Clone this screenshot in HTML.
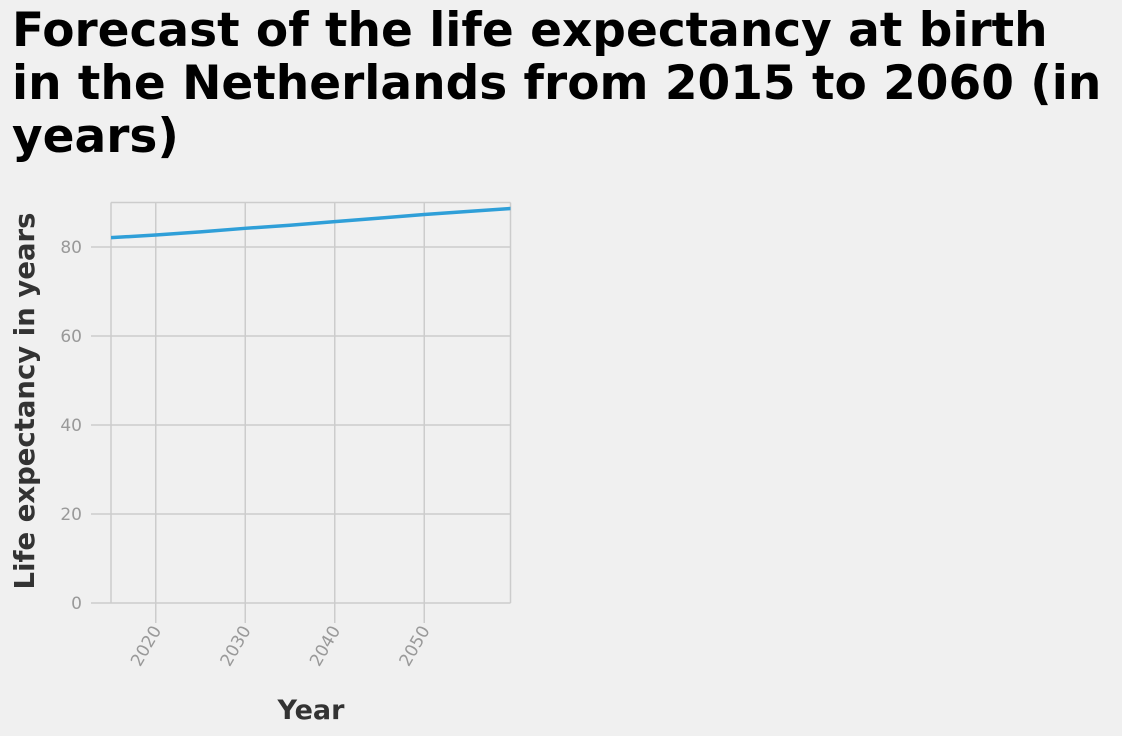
<!DOCTYPE html>
<html><head><meta charset="utf-8"><style>
body{margin:0;background:#f0f0f0;font-family:"DejaVu Sans",sans-serif;}
#title{position:absolute;left:12px;top:4px;font-family:"DejaVu Sans",sans-serif;font-size:47px;font-weight:bold;line-height:53px;color:#000;margin:0;white-space:nowrap;}
</style></head><body>
<h1 id="title">Forecast of the life expectancy at birth<br>in the Netherlands from 2015 to 2060 (in<br>years)</h1>
<svg id="chart" width="1122" height="736" style="position:absolute;left:0;top:0"></svg>
<script>
const years=[2015,2020,2025,2030,2035,2040,2045,2050,2055,2060];
const lifeExpectancy=[82.1,82.7,83.4,84.2,84.9,85.7,86.5,87.3,88.0,88.7];
const yTicks=[0,20,40,60,80];
const xTicks=[2020,2030,2040,2050];
const NS="http://www.w3.org/2000/svg";
const svg=document.getElementById('chart');
const L=111,R=510.5,T=202.5,B=603;
const xs=v=>L+(v-2015)*8.95;
const ys=v=>B-v*4.45;
function mk(tag,attrs,parent){const e=document.createElementNS(NS,tag);for(const k in attrs)e.setAttribute(k,attrs[k]);(parent||svg).appendChild(e);return e;}
const grid=mk('g',{});


mk('line',{x1:L,x2:L,y1:T,y2:B,stroke:'#cccccc','stroke-width':1.5},grid);
mk('line',{x1:R,x2:R,y1:T,y2:B,stroke:'#cccccc','stroke-width':1.5},grid);
mk('line',{x1:L,x2:R,y1:T,y2:T,stroke:'#cccccc','stroke-width':1.5},grid);
yTicks.forEach(v=>{
 const l=mk('line',{x1:L-20,x2:R,y1:ys(v),y2:ys(v),stroke:'#cccccc','stroke-width':1.5},grid);
 
 
 const t=mk('text',{x:L-29,y:ys(v)+6,'text-anchor':'end','font-size':17,fill:'#999'});
 t.textContent=v;
 
 
});
xTicks.forEach(v=>{
 const l=mk('line',{x1:xs(v),x2:xs(v),y1:T,y2:B+20,stroke:'#cccccc','stroke-width':1.5},grid);
 
 
 const t=mk('text',{x:0,y:0,'text-anchor':'end','font-size':17,fill:'#999',transform:`translate(${xs(v)+6},${B+27}) rotate(-60)`});
 t.textContent=v;
 
 
});
mk('clipPath',{id:'cp'});
mk('rect',{x:L,y:T-5,width:R-L,height:B-T+5},svg.lastChild);
const line=mk('polyline',{points:years.map((y,i)=>xs(y)+','+ys(lifeExpectancy[i])).join(' '),fill:'none',stroke:'#2f9fd8','stroke-width':3.5,'clip-path':'url(#cp)'});


const xt=mk('text',{x:311,y:719,'text-anchor':'middle','font-size':27,'font-weight':'bold',fill:'#333'});
xt.textContent='Year';


const yt=mk('text',{x:0,y:0,'text-anchor':'middle','font-size':27.5,'font-weight':'bold',fill:'#333',transform:'translate(34,401) rotate(-90)'});
yt.textContent='Life expectancy in years';


</script>
</body></html>
